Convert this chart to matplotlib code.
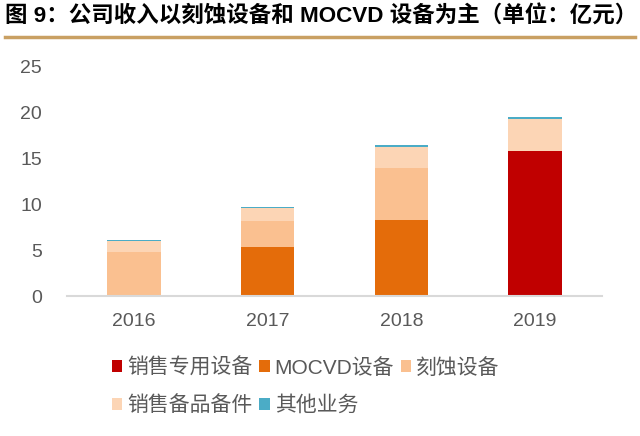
import matplotlib
matplotlib.use('Agg')
import matplotlib.pyplot as plt
import numpy as np
from matplotlib.patches import Patch
from matplotlib.lines import Line2D

plt.rcParams['font.family'] = ['Liberation Sans', 'Noto Sans CJK SC', 'DejaVu Sans']

# 数据（单位：亿元）
years = ['2016', '2017', '2018', '2019']
sales_equip = [0, 0, 0, 15.8]        # 销售专用设备
mocvd = [0, 5.29, 8.26, 0]           # MOCVD设备
etch = [4.82, 2.86, 5.69, 0]         # 刻蚀设备
spare_parts = [1.15, 1.38, 2.28, 3.44]  # 销售备品备件
others = [0.12, 0.14, 0.15, 0.18]    # 其他业务

series = [
    ('销售专用设备', sales_equip, '#C00000'),
    ('MOCVD设备', mocvd, '#E46C0A'),
    ('刻蚀设备', etch, '#FAC090'),
    ('销售备品备件', spare_parts, '#FCD5B5'),
    ('其他业务', others, '#4BACC6'),
]

fig = plt.figure(figsize=(6.4, 4.36), dpi=100)
ax = fig.add_axes([0.1047, 0.3211, 0.8359, 0.5275])

x = np.arange(len(years))
bottom = np.zeros(len(years))
for name, vals, color in series:
    ax.bar(x, vals, width=0.4, bottom=bottom, color=color, label=name)
    bottom += np.array(vals)

ax.set_xlim(-0.5, 3.5)
ax.set_ylim(0, 25)
ax.set_yticks([0, 5, 10, 15, 20, 25])
ax.set_xticks(x)
ax.set_xticklabels(years)
for s in ['top', 'right', 'left']:
    ax.spines[s].set_visible(False)
ax.spines['bottom'].set_color('#D9D9D9')
ax.spines['bottom'].set_linewidth(1.5)
ax.tick_params(axis='both', length=0, labelsize=14, colors='#595959')
ax.tick_params(axis='x', pad=12)
ax.tick_params(axis='y', pad=18)

# 标题与下划线
fig.text(0.008, 0.962, '图 9：公司收入以刻蚀设备和 MOCVD 设备为主（单位：亿元）',
         fontsize=16.2, fontweight='bold', va='center', ha='left', color='black')
fig.add_artist(Line2D([0.008, 0.992], [0.915, 0.915], color='#C9A063', lw=2.5,
                      transform=fig.transFigure))

# 图例：按列顺序排列
order = [0, 3, 1, 4, 2]
handles = [Patch(facecolor=series[i][2], edgecolor='none') for i in order]
labels = [series[i][0] for i in order]
leg = fig.legend(handles, labels, ncol=3, loc='upper left',
                 bbox_to_anchor=(0.175, 0.18), frameon=False, fontsize=15,
                 handlelength=0.5, handleheight=0.5, handletextpad=0.25,
                 columnspacing=0.3, labelspacing=0.85, borderpad=0, borderaxespad=0)
for t in leg.get_texts():
    t.set_color('#595959')

fig.savefig('out.png', dpi=100)
